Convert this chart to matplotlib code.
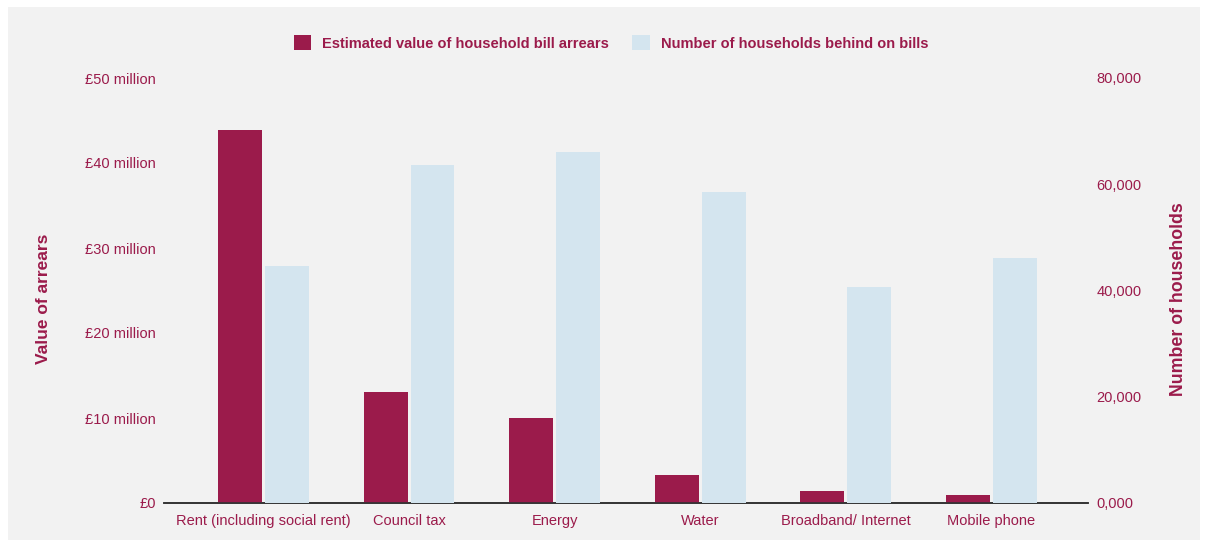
import numpy as np
import matplotlib
matplotlib.use("Agg")
from matplotlib import pyplot as plt
from matplotlib.patches import Rectangle, Patch

# data
categories = ["Rent (including social rent)", "Council tax", "Energy",
              "Water", "Broadband/ Internet", "Mobile phone"]
arrears_million = [43.9, 13.1, 10.0, 3.3, 1.4, 0.9]
households = [44600, 63600, 66100, 58600, 40650, 46150]

left_ticks = [0, 10, 20, 30, 40, 50]
left_labels = ["£0", "£10 million", "£20 million", "£30 million", "£40 million", "£50 million"]
right_ticks = [0, 20000, 40000, 60000, 80000]
right_labels = ["0,000", "20,000", "40,000", "60,000", "80,000"]

MAROON = "#9b1b4b"
BLUE = "#d4e5ef"
BG = "#f2f2f2"

plt.rcParams["font.family"] = ["Liberation Sans", "DejaVu Sans"]

fig = plt.figure(figsize=(12.08, 5.47), dpi=100, facecolor="white")
# grey panel behind the chart
fig.patches.append(Rectangle((8 / 1208, 7 / 547), 1192 / 1208, 533 / 547,
                             transform=fig.transFigure, facecolor=BG,
                             edgecolor="none", zorder=-1))

ax = fig.add_axes([164 / 1208, 1 - 503 / 547, 924 / 1208, 425 / 547])
ax.set_facecolor(BG)
ax2 = ax.twinx()

x = np.arange(len(categories))
w = 0.302
ax.bar(x - 0.161, arrears_million, width=w, color=MAROON, zorder=3)
ax2.bar(x + 0.161, households, width=w, color=BLUE, zorder=3)

ax.set_xlim(-0.683, len(categories) - 1 + 0.663)
ax.set_ylim(0, 50)
ax2.set_ylim(0, 80000)

ax.set_yticks(left_ticks)
ax.set_yticklabels(left_labels)
ax2.set_yticks(right_ticks)
ax2.set_yticklabels(right_labels)
ax.set_xticks(x)
ax.set_xticklabels(categories)

ax.tick_params(axis="y", length=0, pad=6, labelsize=10.5, labelcolor=MAROON)
ax2.tick_params(axis="y", length=0, pad=6, labelsize=10.5, labelcolor=MAROON)
ax.tick_params(axis="x", length=0, pad=8, labelsize=10.5, labelcolor=MAROON)

for a in (ax, ax2):
    for side in ("top", "left", "right"):
        a.spines[side].set_visible(False)
    a.spines["bottom"].set_color("#333333")
    a.spines["bottom"].set_linewidth(1.2)

ax.set_ylabel("Value of arrears", color=MAROON, fontsize=12.5, fontweight="bold")
ax.yaxis.set_label_coords(-0.122, 0.48)
ax2.set_ylabel("Number of households", color=MAROON, fontsize=12.8,
               fontweight="bold", rotation=90)
ax2.yaxis.set_label_coords(1.089, 0.48)

handles = [Patch(facecolor=MAROON, label="Estimated value of household bill arrears"),
           Patch(facecolor=BLUE, label="Number of households behind on bills")]
leg = fig.legend(handles=handles, loc="center", bbox_to_anchor=(611 / 1208, 1 - 43 / 547),
                 ncol=2, frameon=False, handlelength=1.2, handleheight=1.2,
                 handletextpad=0.75, columnspacing=1.6,
                 prop={"weight": "bold", "size": 10.5})
for t in leg.get_texts():
    t.set_color(MAROON)

fig.savefig("out.png", dpi=100, facecolor="white")
